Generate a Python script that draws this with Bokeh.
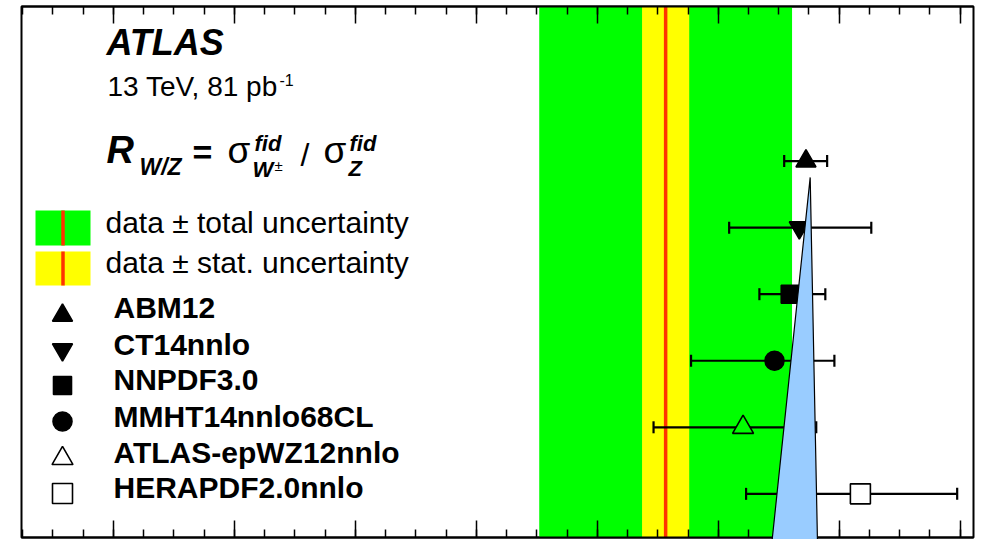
from bokeh.plotting import figure
from bokeh.models import (Range1d, LinearAxis, SingleIntervalTicker, CustomJSTickFormatter,
                          Whisker, TeeHead, ColumnDataSource, BoxAnnotation, Span)
from bokeh.core.properties import value
from bokeh.embed import file_html
from bokeh.resources import INLINE

# ---- measurement: R_W/Z at 13 TeV ----
data_value = 10.313
data_stat = 0.039
data_total = 0.209

# ---- predictions from the PDF sets ----
models = ["ABM12", "CT14nnlo", "NNPDF3.0", "MMHT14nnlo68CL", "ATLAS-epWZ12nnlo", "HERAPDF2.0nnlo"]
pred = [10.545, 10.534, 10.519, 10.493, 10.441, 10.635]
pred_lo = [10.509, 10.418, 10.468, 10.355, 10.293, 10.446]
pred_hi = [10.580, 10.653, 10.577, 10.592, 10.562, 10.795]
rows = [6, 5, 4, 3, 2, 1]
markers = ["triangle", "inverted_triangle", "square", "circle", "triangle", "square"]
filled = [True, True, True, True, False, False]
marker_sizes = [20, 20, 18, 19, 21, 20]

# callout pointer drawn over the plot
pointer_x = [10.552, 10.489, 10.564]
pointer_y = [5.755, 0.30, 0.30]

FONT = value("Liberation Sans")
GREEN = "#00ff00"
YELLOW = "#ffff00"
RED = "#ff3300"

p = figure(width=985, height=539,
           x_range=Range1d(9.248, 10.822), y_range=Range1d(0.344, 8.323),
           output_backend="svg", toolbar_location=None,
           y_axis_location=None, x_axis_location="below",
           min_border_left=21, min_border_right=12, min_border_top=6, min_border_bottom=2)
p.background_fill_color = "white"
p.border_fill_color = "white"
p.outline_line_color = "black"
p.outline_line_width = 2
p.grid.grid_line_color = None

# pixel-like layout coordinates for the text block and legend
p.extra_x_ranges = {"canvas": Range1d(21, 973)}
p.extra_y_ranges = {"canvas": Range1d(537, 6)}


def style_axis(ax):
    ax.ticker = SingleIntervalTicker(interval=0.2, num_minor_ticks=4)
    ax.formatter = CustomJSTickFormatter(code="return ''")
    ax.major_label_text_font_size = "0px"
    ax.major_label_standoff = 0
    ax.major_tick_in = 17
    ax.major_tick_out = 0
    ax.minor_tick_in = 8
    ax.minor_tick_out = 0
    ax.major_tick_line_width = 1.5
    ax.minor_tick_line_width = 1.5
    ax.major_tick_line_color = "black"
    ax.minor_tick_line_color = "black"
    ax.axis_line_width = 2
    ax.axis_line_color = "black"


style_axis(p.xaxis[0])
top_axis = LinearAxis()
style_axis(top_axis)
p.add_layout(top_axis, "above")

# data bands and central value
p.add_layout(BoxAnnotation(left=data_value - data_total, right=data_value + data_total,
                           fill_color=GREEN, fill_alpha=1, line_alpha=0, level="underlay"))
p.add_layout(BoxAnnotation(left=data_value - data_stat, right=data_value + data_stat,
                           fill_color=YELLOW, fill_alpha=1, line_alpha=0, level="underlay"))
p.add_layout(Span(location=data_value, dimension="height", line_color=RED,
                  line_width=3.5, level="underlay"))


def background_at(x):
    if abs(x - data_value) <= data_stat:
        return YELLOW
    if abs(x - data_value) <= data_total:
        return GREEN
    return "white"


fills = ["black" if f else background_at(x) for f, x in zip(filled, pred)]

src = ColumnDataSource(dict(x=pred, lo=pred_lo, hi=pred_hi, y=rows,
                            marker=markers, fill=fills, size=marker_sizes))
p.add_layout(Whisker(source=src, base="y", lower="lo", upper="hi", dimension="width",
                     line_color="black", line_width=2.2, level="underlay",
                     upper_head=TeeHead(size=12, line_width=2.2, line_color="black"),
                     lower_head=TeeHead(size=12, line_width=2.2, line_color="black")))
p.scatter(x="x", y="y", marker="marker", size="size", source=src,
          fill_color="fill", line_color="black", line_width=1.6)

p.patch(pointer_x, pointer_y, fill_color="#99ccff", line_color="black",
        line_width=1.2, level="overlay")


def txt(x, y, s, size, style="normal"):
    px = float(size.rstrip("px"))
    p.text(x=[x], y=[y - 0.42 * px], text=[s], text_font=FONT, text_font_size=size,
           text_font_style=style, text_color="black", text_align="left",
           text_baseline="alphabetic", x_range_name="canvas", y_range_name="canvas")


# title block
txt(106, 57, "ATLAS", "36px", "bold italic")
txt(107, 98, "13 TeV, 81 pb", "28px")
txt(279, 86, "-1", "16px")

txt(106, 165, "R", "38px", "bold italic")
txt(139, 176, "W/Z", "23px", "bold italic")
txt(192, 166, "=", "34px", "bold")
txt(227, 166, "σ", "37px")
txt(254, 152, "fid", "22px", "bold italic")
txt(252, 178, "W", "22px", "bold italic")
txt(274, 171, "±", "15px")
txt(300, 168, "/", "32px")
txt(323, 166, "σ", "37px")
txt(349, 152, "fid", "22px", "bold italic")
txt(348, 177, "Z", "22px", "bold italic")

# legend: bands
p.quad(left=[35, 35], right=[90, 90], top=[210, 251], bottom=[245, 285],
       fill_color=[GREEN, YELLOW], line_alpha=0,
       x_range_name="canvas", y_range_name="canvas")
p.segment(x0=[62.5, 62.5], y0=[210, 251], x1=[62.5, 62.5], y1=[245, 285],
          line_color=RED, line_width=3.5, x_range_name="canvas", y_range_name="canvas")
txt(105, 235, "data ± total uncertainty", "30px")
txt(105, 275, "data ± stat. uncertainty", "30px")

# legend: models
legend_y = [315, 349, 385, 421, 458, 493]
legend_text_y = [320, 357, 392, 429, 465, 500]
p.scatter(x=[62] * len(models), y=legend_y, marker=markers,
          size=marker_sizes,
          fill_color=["black" if f else "white" for f in filled],
          line_color="black", line_width=1.6,
          x_range_name="canvas", y_range_name="canvas")
for name, ty in zip(models, legend_text_y):
    txt(113, ty, name, "30px", "bold")

open("out.html", "w").write(file_html(p, INLINE))
